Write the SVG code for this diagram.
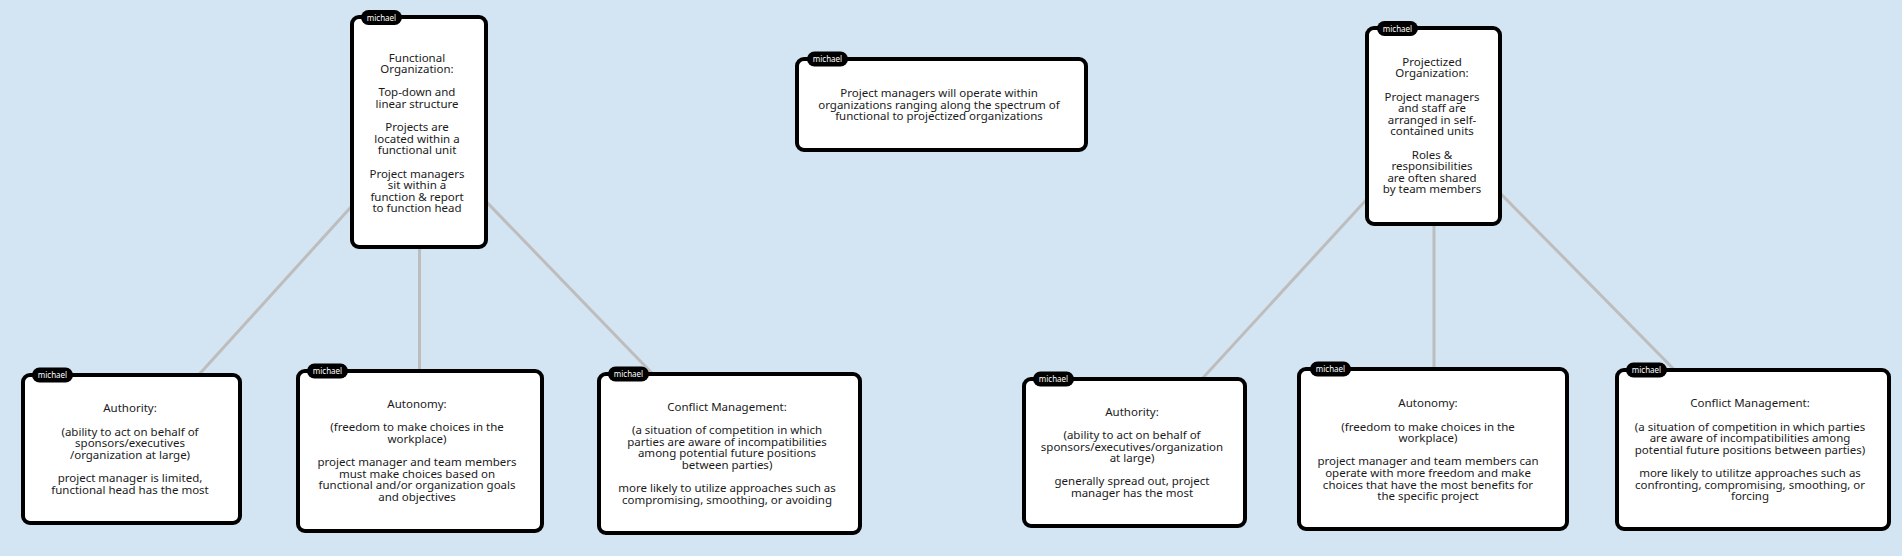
<svg xmlns="http://www.w3.org/2000/svg" width="1902" height="556" viewBox="0 0 1902 556">
<style>
.bg{fill:#d3e4f2}
.box{fill:#ffffff;stroke:#000000;stroke-width:4}
.badge{fill:#000000}
.bt{font-family:"Noto Sans","DejaVu Sans",sans-serif;font-size:8px;fill:#ffffff;text-anchor:middle}
.t{font-family:"Noto Sans","DejaVu Sans",sans-serif;font-size:11.5px;fill:#1a1a1a;text-anchor:middle}
.edge{stroke:#bdbdbd;stroke-width:3;fill:none}
</style>
<rect class="bg" x="0" y="0" width="1902" height="556"/>
<g id="connectors">
<line class="edge" x1="419" y1="132" x2="131.5" y2="449"/>
<line class="edge" x1="419.5" y1="132" x2="419.5" y2="451"/>
<line class="edge" x1="419" y1="132" x2="729.5" y2="453.5"/>
<line class="edge" x1="1434" y1="126" x2="1134.5" y2="452.5"/>
<line class="edge" x1="1434" y1="126" x2="1434" y2="449"/>
<line class="edge" x1="1434" y1="126" x2="1753" y2="449.5"/>
</g>
<g id="functional">
<rect class="box" x="352" y="17" width="134" height="230" rx="7"/>
<rect class="badge" x="361" y="10" width="41" height="15" rx="7.5"/>
<text class="bt" x="381.5" y="20.5">michael</text>
<text class="t" y="61.5"><tspan x="417">Functional</tspan><tspan x="417" dy="11.6">Organization:</tspan><tspan x="417" dy="23.2">Top-down and</tspan><tspan x="417" dy="11.6">linear structure</tspan><tspan x="417" dy="23.2">Projects are</tspan><tspan x="417" dy="11.6">located within a</tspan><tspan x="417" dy="11.6">functional unit</tspan><tspan x="417" dy="23.2">Project managers</tspan><tspan x="417" dy="11.6">sit within a</tspan><tspan x="417" dy="11.6">function &amp; report</tspan><tspan x="417" dy="11.6">to function head</tspan></text>
</g>
<g id="spectrum">
<rect class="box" x="797" y="59" width="289" height="91" rx="7"/>
<rect class="badge" x="807" y="51.5" width="41" height="15" rx="7.5"/>
<text class="bt" x="827.5" y="62">michael</text>
<text class="t" y="97"><tspan x="939">Project managers will operate within</tspan><tspan x="939" dy="11.6">organizations ranging along the spectrum of</tspan><tspan x="939" dy="11.6">functional to projectized organizations</tspan></text>
</g>
<g id="projectized">
<rect class="box" x="1367" y="28" width="133" height="196" rx="7"/>
<rect class="badge" x="1377" y="21" width="41" height="15" rx="7.5"/>
<text class="bt" x="1397.5" y="31.5">michael</text>
<text class="t" y="65.7"><tspan x="1432">Projectized</tspan><tspan x="1432" dy="11.6">Organization:</tspan><tspan x="1432" dy="23.2">Project managers</tspan><tspan x="1432" dy="11.6">and staff are</tspan><tspan x="1432" dy="11.6">arranged in self-</tspan><tspan x="1432" dy="11.6">contained units</tspan><tspan x="1432" dy="23.2">Roles &amp;</tspan><tspan x="1432" dy="11.6">responsibilities</tspan><tspan x="1432" dy="11.6">are often shared</tspan><tspan x="1432" dy="11.6">by team members</tspan></text>
</g>
<g id="authority-functional">
<rect class="box" x="23" y="375" width="217" height="148" rx="7"/>
<rect class="badge" x="32" y="367.5" width="41" height="15" rx="7.5"/>
<text class="bt" x="52.5" y="378">michael</text>
<text class="t" y="412.3"><tspan x="130">Authority:</tspan><tspan x="130" dy="23.2">(ability to act on behalf of</tspan><tspan x="130" dy="11.6">sponsors/executives</tspan><tspan x="130" dy="11.6">/organization at large)</tspan><tspan x="130" dy="23.2">project manager is limited,</tspan><tspan x="130" dy="11.6">functional head has the most</tspan></text>
</g>
<g id="autonomy-functional">
<rect class="box" x="298" y="371" width="244" height="160" rx="7"/>
<rect class="badge" x="307" y="363.5" width="41" height="15" rx="7.5"/>
<text class="bt" x="327.5" y="374">michael</text>
<text class="t" y="408"><tspan x="417">Autonomy:</tspan><tspan x="417" dy="23.2">(freedom to make choices in the</tspan><tspan x="417" dy="11.6">workplace)</tspan><tspan x="417" dy="23.2">project manager and team members</tspan><tspan x="417" dy="11.6">must make choices based on</tspan><tspan x="417" dy="11.6">functional and/or organization goals</tspan><tspan x="417" dy="11.6">and objectives</tspan></text>
</g>
<g id="conflict-functional">
<rect class="box" x="599" y="374" width="261" height="159" rx="7"/>
<rect class="badge" x="608" y="366.5" width="41" height="15" rx="7.5"/>
<text class="bt" x="628.5" y="377">michael</text>
<text class="t" y="410.7"><tspan x="727">Conflict Management:</tspan><tspan x="727" dy="23.2">(a situation of competition in which</tspan><tspan x="727" dy="11.6">parties are aware of incompatibilities</tspan><tspan x="727" dy="11.6">among potential future positions</tspan><tspan x="727" dy="11.6">between parties)</tspan><tspan x="727" dy="23.2">more likely to utilize approaches such as</tspan><tspan x="727" dy="11.6">compromising, smoothing, or avoiding</tspan></text>
</g>
<g id="authority-projectized">
<rect class="box" x="1024" y="379" width="221" height="147" rx="7"/>
<rect class="badge" x="1033" y="371.5" width="41" height="15" rx="7.5"/>
<text class="bt" x="1053.5" y="382">michael</text>
<text class="t" y="415.7"><tspan x="1132">Authority:</tspan><tspan x="1132" dy="23.2">(ability to act on behalf of</tspan><tspan x="1132" dy="11.6">sponsors/executives/organization</tspan><tspan x="1132" dy="11.6">at large)</tspan><tspan x="1132" dy="23.2">generally spread out, project</tspan><tspan x="1132" dy="11.6">manager has the most</tspan></text>
</g>
<g id="autonomy-projectized">
<rect class="box" x="1299" y="369" width="268" height="160" rx="7"/>
<rect class="badge" x="1310" y="361.5" width="41" height="15" rx="7.5"/>
<text class="bt" x="1330.5" y="372">michael</text>
<text class="t" y="407.3"><tspan x="1428">Autonomy:</tspan><tspan x="1428" dy="23.2">(freedom to make choices in the</tspan><tspan x="1428" dy="11.6">workplace)</tspan><tspan x="1428" dy="23.2">project manager and team members can</tspan><tspan x="1428" dy="11.6">operate with more freedom and make</tspan><tspan x="1428" dy="11.6">choices that have the most benefits for</tspan><tspan x="1428" dy="11.6">the specific project</tspan></text>
</g>
<g id="conflict-projectized">
<rect class="box" x="1617" y="370" width="272" height="159" rx="7"/>
<rect class="badge" x="1626" y="362.5" width="41" height="15" rx="7.5"/>
<text class="bt" x="1646.5" y="373">michael</text>
<text class="t" y="407.3"><tspan x="1750">Conflict Management:</tspan><tspan x="1750" dy="23.2">(a situation of competition in which parties</tspan><tspan x="1750" dy="11.6">are aware of incompatibilities among</tspan><tspan x="1750" dy="11.6">potential future positions between parties)</tspan><tspan x="1750" dy="23.2">more likely to utilitze approaches such as</tspan><tspan x="1750" dy="11.6">confronting, compromising, smoothing, or</tspan><tspan x="1750" dy="11.6">forcing</tspan></text>
</g>
</svg>
